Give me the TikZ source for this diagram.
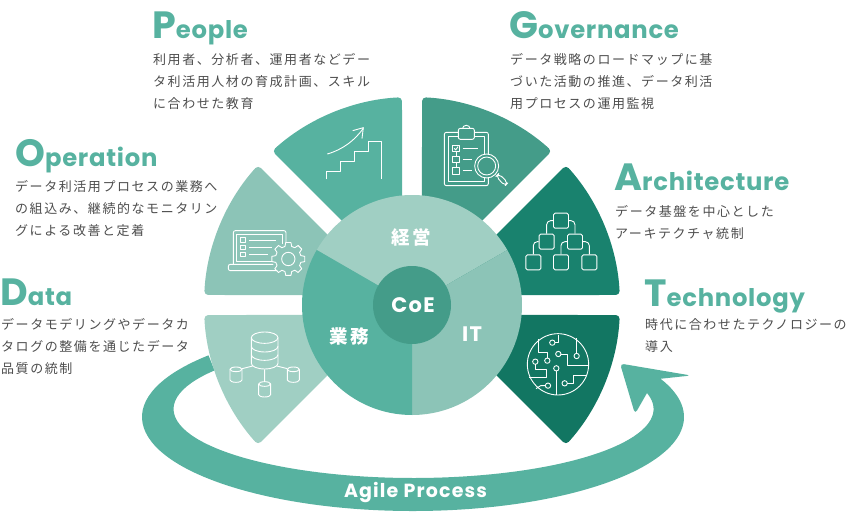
\documentclass[tikz,border=0pt]{standalone}
\usepackage{fontspec}
\usetikzlibrary{positioning,calc}
\newfontfamily\jpfont[LetterSpace=12]{Noto Sans CJK JP}
\newfontfamily\headfont[LetterSpace=3]{Poppins}
\newfontfamily\wheelfont[LetterSpace=6]{Poppins}
\definecolor{peoplefill}{HTML}{57B2A0}
\definecolor{govfill}{HTML}{449C89}
\definecolor{archfill}{HTML}{19826E}
\definecolor{techfill}{HTML}{127662}
\definecolor{opsfill}{HTML}{8CC4B7}
\definecolor{datafill}{HTML}{A0CFC3}
\definecolor{desctext}{HTML}{4D4D4D}
\newcommand{\headword}[2]{{\headfont\bfseries\fontsize{38}{38}\selectfont #1\fontsize{24.3}{24.3}\selectfont #2}}
\tikzset{
  headlabel/.style={anchor=base west, inner sep=0pt, text=peoplefill},
  desclabel/.style={anchor=north west, inner sep=0pt, align=left, text=desctext, font=\jpfont\fontsize{13}{22}\selectfont},
  wheellabel/.style={inner sep=0pt, text=white, font=\jpfont\bfseries\fontsize{18.5}{18.5}\selectfont},
  iconline/.style={draw=white, line width=0.9pt, line join=round},
  iconbox/.style={iconline, rounded corners=1.5pt, minimum size=15pt, inner sep=0pt}
}
\begin{document}
\begin{tikzpicture}[x=1pt, y=-1pt, >=stealth]
        \useasboundingbox (0,0) rectangle (848,511);

        % agile ring with arrow head
        \fill[peoplefill] (413,417) ++(221:271 and 94) arc[start angle=221, end angle=-24, x radius=271, y radius=94]
            [rounded corners=4] -- (691,375.5) -- (620,363.5) -- (635,414) [sharp corners] -- (647,393)
            arc[start angle=-13.4, end angle=214, x radius=240, y radius=69] -- cycle;

        % six outer wedges
        \begin{scope}[shift={(412,305)}]
            \foreach \ang/\wfill in {0/techfill, -45/archfill, -90/govfill, -135/peoplefill, -180/opsfill, 135/datafill} {
                \fill[\wfill, rounded corners=4] (\ang+22.5:26) -- (\ang+2.76:208)
                    arc[start angle=\ang+2.76, end angle=\ang+42.24, radius=208] -- cycle;
            }

            % wheel
            \fill[datafill] (0,0) -- (-150:110) arc[start angle=-150, end angle=-30, radius=110] -- cycle;
            \fill[opsfill] (0,0) -- (-30:110) arc[start angle=-30, end angle=90, radius=110] -- cycle;
            \fill[peoplefill] (0,0) -- (90:110) arc[start angle=90, end angle=210, radius=110] -- cycle;
            \fill[govfill] (0,0) circle (39);
        \end{scope}

        \node[wheellabel] (mgmt) at (411.5,237) {経営};
        \node[wheellabel] (biz) at (349,336) {業務};
        \node[wheellabel, font=\wheelfont\bfseries\fontsize{21}{21}\selectfont] (it) at (472,334) {IT};
        \node[wheellabel, font=\wheelfont\bfseries\fontsize{21}{21}\selectfont] (coe) at (413,305) {CoE};
        \node[wheellabel, font=\wheelfont\bfseries\fontsize{19}{19}\selectfont] (agile) at (415.5,492) {Agile Process};

        % headings and descriptions
        \node[headlabel] (people) at (152,39) {\headword{P}{eople}};
        \node[desclabel] (peopledesc) at (153,53) {利用者、分析者、運用者などデー\\タ利活用人材の育成計画、スキル\\に合わせた教育};

        \node[headlabel] (gov) at (509,39) {\headword{G}{overnance}};
        \node[desclabel] (govdesc) at (510,53) {データ戦略のロードマップに基\\づいた活動の推進、データ利活\\用プロセスの運用監視};

        \node[headlabel] (ops) at (15,166) {\headword{O}{peration}};
        \node[desclabel] (opsdesc) at (15,180) {データ利活用プロセスの業務へ\\の組込み、継続的なモニタリン\\グによる改善と定着};

        \node[headlabel] (arch) at (614,190) {\headword{A}{rchitecture}};
        \node[desclabel] (archdesc) at (615,205) {データ基盤を中心とした\\アーキテクチャ統制};

        \node[headlabel] (data) at (0,305) {\headword{D}{ata}};
        \node[desclabel] (datadesc) at (1,318) {データモデリングやデータカ\\タログの整備を通じたデータ\\品質の統制};

        \node[headlabel] (tech) at (644,306) {\headword{T}{echnology}};
        \node[desclabel] (techdesc) at (645,318) {時代に合わせたテクノロジーの\\導入};

        % people icon
        \begin{scope}[shift={(200,90)}, scale=0.3333]
            \draw[iconline] (380,268) |- (420,243) |- (462,213) |- (505,183) |- (545,153) -- (545,268);
            \draw[iconline] (382,192) .. controls (430,178) and (465,150) .. (490,115);
            \draw[iconline] (458,122) -- (490,113) -- (486,146);
        \end{scope}

        % operation icon
        \begin{scope}[shift={(200,90)}, scale=0.3333]
            \draw[iconline, rounded corners=2] (100,525) -- (100,422) -- (258,422) -- (258,525);
            \draw[iconline] (110,433) rectangle (248,514);
            \draw[iconline, rounded corners=2] (85,523) -- (85,542) -- (245,542) -- (245,523) -- cycle;
            \foreach \rowy/\rowx in {450/228, 472/215, 493/204} {
                \draw[iconline] (121,\rowy-7) rectangle (135,\rowy+7);
                \draw[iconline] (148,\rowy) -- (\rowx,\rowy);
            }
            \begin{scope}[shift={(265,507)}]
                \fill[opsfill] (0,0) circle (48);
                \draw[iconline] \foreach \a in {0,45,...,315} {(\a-15:39) -- (\a-9:50) -- (\a+9:50) -- (\a+15:39) arc[start angle=\a+15, end angle=\a+30, radius=39]};
                \draw[iconline] (0,0) circle (20);
            \end{scope}
        \end{scope}

        % governance icon
        \begin{scope}[shift={(415,90)}, scale=0.3333]
            \draw[iconline, rounded corners=2] (88,127) rectangle (220,287);
            \draw[iconline] (100,140) rectangle (208,275);
            \fill[govfill] (130,115) rectangle (178,148);
            \draw[iconline, rounded corners=2] (130,115) rectangle (178,148);
            \draw[iconline] (143,115) arc[start angle=180, end angle=360, x radius=11, y radius=9];
            \foreach \rowy/\rowx in {175/188, 208/172, 242/172} {
                \draw[iconline] (113,\rowy-10) rectangle (134,\rowy+10);
                \draw[iconline] (143,\rowy) -- (\rowx,\rowy);
            }
            \draw[iconline] (123,185) -- (123,198) (123,218) -- (123,232);
            \draw[iconline] (118,175) -- (122,180) -- (129,170);
            \fill[govfill] (215,228) circle (36);
            \draw[iconline] (215,228) circle (36) (215,228) circle (27);
            \draw[iconline, rounded corners=4] (243,259) -- (251,251) -- (279,278) -- (270,288) -- cycle;
        \end{scope}

        % architecture icon
        \begin{scope}[shift={(415,90)}, scale=0.3333]
            \node[iconbox] (archtop) at (438,392) {};
            \node[iconbox] (archml) at (395,455) {};
            \node[iconbox] (archmr) at (480,455) {};
            \node[iconbox] (archbl) at (355,517) {};
            \node[iconbox] (archbm) at (438,517) {};
            \node[iconbox] (archbr) at (523,517) {};
            \draw[iconline, rounded corners=4] (archtop.west) -| (archml.north);
            \draw[iconline, rounded corners=4] (archtop.east) -| (archmr.north);
            \draw[iconline, rounded corners=4] (archml.west) -| (archbl.north);
            \draw[iconline, rounded corners=4] (archmr.west) -| (archbm.north);
            \draw[iconline, rounded corners=4] (archmr.east) -| (archbr.north);
        \end{scope}

        % data icon
        \begin{scope}[shift={(130,300)}, scale=0.3333]
            \draw[iconline] (364,113) -- (364,190) arc[start angle=180, end angle=0, x radius=40, y radius=17] -- (444,113);
            \draw[iconline] (404,113) ellipse (40 and 17);
            \foreach \bandy in {139,164} {
                \draw[iconline] (364,\bandy) arc[start angle=180, end angle=0, x radius=40, y radius=17];
            }
            \foreach \cx/\cy in {318/223, 490/223, 404/267} {
                \draw[iconline] (\cx-18,\cy-15) -- (\cx-18,\cy+17) arc[start angle=180, end angle=0, x radius=18, y radius=7] -- (\cx+18,\cy-15);
                \draw[iconline] (\cx,\cy-15) ellipse (18 and 7);
            }
            \draw[iconline] (368,198) -- (336,206) (440,198) -- (472,206) (404,208) -- (404,245);
        \end{scope}

        % technology icon
        \begin{scope}[shift={(410,300)}, scale=0.3333]
            \draw[iconline] (444,193) circle (92);
            \draw[iconline] (385,118) -- (385,158) -- (412,158) -- (412,174);
            \draw[iconline] (445,105) -- (445,128) -- (435,128);
            \draw[iconline] (500,115) -- (500,160);
            \draw[iconline] (535,197) -- (472,197) -- (472,162) -- (453,162);
            \draw[iconline] (376,193) -- (376,208) -- (408,208) -- (408,232) -- (358,232);
            \draw[iconline] (439,213) -- (439,285);
            \draw[iconline] (378,266) -- (392,257) -- (406,257);
            \draw[iconline] (472,250) -- (490,250) -- (490,225) -- (528,225);
            \foreach \px/\py in {412/182, 427/128, 500/168, 445/162, 376/185, 439/205, 414/257, 464/250} {
                \draw[iconline] (\px,\py) circle (8);
            }
        \end{scope}

    \end{tikzpicture}
\end{document}
